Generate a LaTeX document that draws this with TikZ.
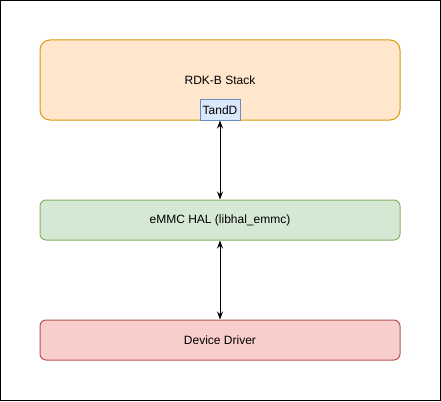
\documentclass[tikz,border=0pt]{standalone}
\usepackage{fontspec}
\setmainfont{Liberation Sans}
\usetikzlibrary{arrows.meta}

\definecolor{stackfill}{HTML}{FFE6CC}
\definecolor{stackline}{HTML}{D79B00}
\definecolor{tanddfill}{HTML}{DAE8FC}
\definecolor{tanddline}{HTML}{6C8EBF}
\definecolor{halfill}{HTML}{D5E8D4}
\definecolor{halline}{HTML}{82B366}
\definecolor{drvfill}{HTML}{F8CECC}
\definecolor{drvline}{HTML}{B85450}

\tikzset{
  layer/.style={draw, line width=1pt, inner sep=0pt, minimum width=360pt,
    font=\fontsize{12}{14}\selectfont},
  link/.style={line width=1pt, {Stealth[length=8pt,width=6pt]}-{Stealth[length=8pt,width=6pt]}}
}

\begin{document}
\begin{tikzpicture}[x=1pt,y=-1pt]

\useasboundingbox (0,0) rectangle (441,401);
\draw[line width=1pt] (0.5,0.5) rectangle (440.5,400.5);

\node[layer, fill=stackfill, draw=stackline, minimum height=80pt, rounded corners=10pt] (stack) at (220,80) {RDK-B Stack};
\node[layer, fill=tanddfill, draw=tanddline, minimum width=40pt, minimum height=20pt] (tandd) at (220,110) {TandD};
\node[layer, fill=halfill, draw=halline, minimum height=40pt, rounded corners=6pt] (hal) at (220,220) {eMMC HAL (libhal\_emmc)};
\node[layer, fill=drvfill, draw=drvline, minimum height=40pt, rounded corners=6pt] (driver) at (220,340) {Device Driver};

\draw[link] (tandd.south) -- (hal.north);
\draw[link] (hal.south) -- (driver.north);

\end{tikzpicture}
\end{document}
